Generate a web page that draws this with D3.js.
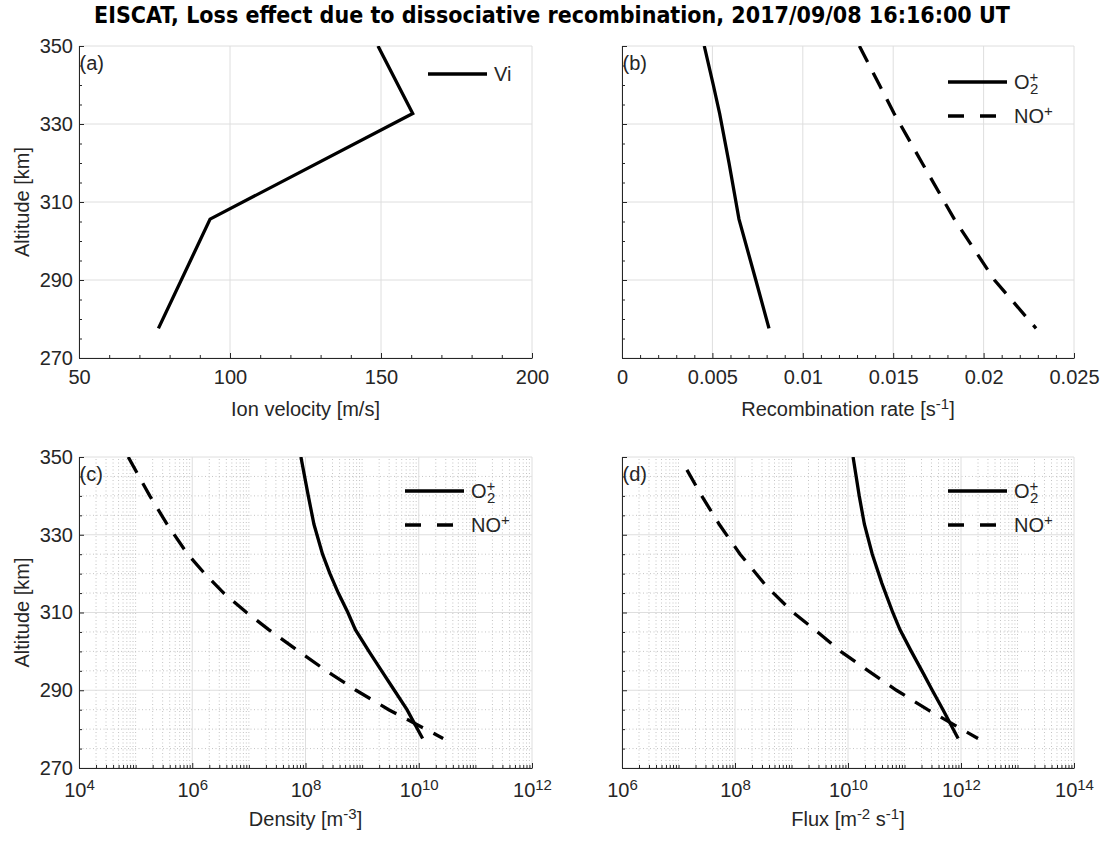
<!DOCTYPE html>
<meta charset="utf-8">
<style>
body { margin: 0; background: #fff; }
svg { font-family: "Liberation Sans", Arial, sans-serif; }
.tick text { font-size: 20px; fill: #262626; }
.axis path, .axis line { stroke: #262626; }
.lbl { font-size: 20px; fill: #262626; }
</style>
<body>
<script src="https://d3js.org/d3.v7.min.js"></script>
<script>

// ---- data ----
var titleText = "EISCAT, Loss effect due to dissociative recombination, 2017/09/08 16:16:00 UT";

// (a) ion velocity
var altVi = [277.6, 305.6, 332.7, 350];
var vi    = [76.3, 93.4, 160.5, 149];

// (b) recombination rate [s^-1]
var altRate = [350, 340, 332.7, 320, 305.6, 290, 277.6];
var rateO2  = [0.00455, 0.00505, 0.00540, 0.00592, 0.00647, 0.00740, 0.00813];
var rateNO  = [0.01313, 0.01424, 0.01505, 0.01660, 0.01838, 0.0206, 0.0229];

// (c) density [m^-3]
var altDens = [350, 340, 332.7, 325, 320, 315, 310, 305.6, 300, 295, 290, 285, 277.6];
var densO2  = [8.3e7, 1.12e8, 1.41e8, 2.0e8, 2.7e8, 3.8e8, 5.6e8, 7.6e8, 1.32e9, 2.21e9, 3.7e9, 6.2e9, 1.17e10];
var densNO  = [7.4e4, 1.78e5, 3.6e5, 8.3e5, 1.66e6, 3.6e6, 9.1e6, 2.24e7, 7.6e7, 2.34e8, 7.8e8, 2.95e9, 2.7e10];

// (d) flux [m^-2 s^-1]
var altFluxO2 = [350, 340, 332.7, 325, 317.5, 310, 305.6, 300, 294.4, 290, 285, 277.6];
var fluxO2    = [1.23e10, 1.58e10, 1.95e10, 2.69e10, 3.98e10, 6.2e10, 8.3e10, 1.32e11, 2.14e11, 3.1e11, 4.8e11, 8.9e11];
var altFluxNO = [346.7, 340, 332.7, 325, 316.7, 310, 305.6, 300, 295, 290, 285, 277.6];
var fluxNO    = [1.41e7, 2.57e7, 5.25e7, 1.23e8, 3.63e8, 1.07e9, 2.57e9, 7.4e9, 2.29e10, 7.2e10, 2.57e11, 2.0e12];

var altTicks = [270, 290, 310, 330, 350];
var velTicks = [50, 100, 150, 200];
var rateTicks = [0, 0.005, 0.01, 0.015, 0.02, 0.025];
var rateTickLabels = ["0", "0.005", "0.01", "0.015", "0.02", "0.025"];
var densTicks = [1e4, 1e6, 1e8, 1e10, 1e12];
var fluxTicks = [1e6, 1e8, 1e10, 1e12, 1e14];

// ---- drawing ----
var width = 1105, height = 842;
var svg = d3.select("body").append("svg")
    .attr("width", width).attr("height", height);
svg.append("rect").attr("width", width).attr("height", height).attr("fill", "#fff");

svg.append("text")
    .attr("x", 552).attr("y", 23)
    .attr("text-anchor", "middle")
    .style("font-family", "'DejaVu Sans Condensed', 'DejaVu Sans', sans-serif")
    .style("font-stretch", "condensed")
    .style("font-weight", "bold")
    .style("font-size", "23px")
    .attr("fill", "#000")
    .text(titleText);

var ink = "#262626";
var gridMajor = "#dedede";
var gridMinor = "#c4c4c4";

function range(a, b, step) {
  var out = [];
  for (var v = a; v <= b + step * 1e-6; v += step) out.push(+v.toFixed(10));
  return out;
}
function logMinor(d) {
  var out = [], lo = Math.round(Math.log10(d[0])), hi = Math.round(Math.log10(d[1]));
  for (var e = lo; e < hi; e++)
    for (var k = 1; k <= 9; k++) {
      var v = k * Math.pow(10, e);
      if (!(k === 1 && e % 2 === 0)) out.push(v);
    }
  return out;
}

// write text with optional super/subscript pieces
function supText(sel, parts) {
  sel.text(null);
  parts.forEach(function(p) {
    var t = sel.append("tspan").text(p.t);
    if (p.sup) t.attr("dy", "-0.45em").style("font-size", "0.75em");
    if (p.sub) t.attr("dy", "0.35em").style("font-size", "0.75em");
    if (p.back) t.attr("dy", p.back);
    if (p.dx) t.attr("dx", p.dx);
  });
}

var clipId = 0;
function panel(o) {
  var x = o.x, y = o.y;
  var x0 = x.range()[0], x1 = x.range()[1], y0 = y.range()[0], y1 = y.range()[1];
  var g = svg.append("g");

  // grids
  if (o.minorGrid) {
    g.selectAll(null).data(o.xMinor).enter().append("line")
      .attr("x1", x).attr("x2", x).attr("y1", y0).attr("y2", y1)
      .attr("stroke", gridMinor).attr("stroke-dasharray", "1,2.5");
    g.selectAll(null).data(o.yMinor).enter().append("line")
      .attr("y1", y).attr("y2", y).attr("x1", x0).attr("x2", x1)
      .attr("stroke", gridMinor).attr("stroke-dasharray", "1,2.5");
  }
  g.selectAll(null).data(o.xMajor).enter().append("line")
    .attr("x1", x).attr("x2", x).attr("y1", y0).attr("y2", y1)
    .attr("stroke", gridMajor);
  g.selectAll(null).data(o.yMajor).enter().append("line")
    .attr("y1", y).attr("y2", y).attr("x1", x0).attr("x2", x1)
    .attr("stroke", gridMajor);

  // curves
  var id = "clip" + (clipId++);
  svg.append("clipPath").attr("id", id).append("rect")
    .attr("x", x0).attr("y", y1).attr("width", x1 - x0).attr("height", y0 - y1);
  o.series.forEach(function(s) {
    var line = d3.line().x(function(d) { return x(d[0]); }).y(function(d) { return y(d[1]); });
    g.append("path")
      .datum(d3.zip(s.v, s.alt))
      .attr("clip-path", "url(#" + id + ")")
      .attr("d", line)
      .attr("fill", "none")
      .attr("stroke", "#000")
      .attr("stroke-width", 3.3)
      .attr("stroke-dasharray", s.dash ? "18,12" : null);
  });

  // axes (ticks point inward)
  var xa = g.append("g").attr("class", "axis").attr("transform", "translate(0," + y0 + ")")
    .call(d3.axisBottom(x).tickValues(o.xMajor).tickSize(-5).tickSizeOuter(0)
      .tickPadding(o.logX ? 15 : 12)
      .tickFormat(function(d, i) { return o.xLabels[i]; }));
  if (o.logX) {
    xa.selectAll(".tick text").each(function(d) {
      var e = Math.round(Math.log10(d));
      supText(d3.select(this), [{t: "10"}, {t: String(e), sup: true}]);
    });
  }
  xa.append("g").call(d3.axisBottom(x).tickValues(o.xMinor).tickSize(-3).tickSizeOuter(0).tickFormat(""))
    .call(function(s) { s.select(".domain").remove(); s.selectAll("text").remove(); })
    .selectAll("line").attr("stroke", ink);

  var ya = g.append("g").attr("class", "axis").attr("transform", "translate(" + x0 + ",0)")
    .call(d3.axisLeft(y).tickValues(o.yMajor).tickSize(-5).tickSizeOuter(0).tickPadding(6)
      .tickFormat(o.yLabels ? d3.format("d") : ""));
  ya.append("g").call(d3.axisLeft(y).tickValues(o.yMinor).tickSize(-3).tickSizeOuter(0).tickFormat(""))
    .call(function(s) { s.select(".domain").remove(); s.selectAll("text").remove(); })
    .selectAll("line").attr("stroke", ink);

  // axis titles
  var xt = svg.append("text").attr("class", "lbl")
    .attr("x", (x0 + x1) / 2).attr("y", y0 + 58).attr("text-anchor", "middle");
  supText(xt, o.xTitle);
  if (o.yLabels) {
    svg.append("text").attr("class", "lbl")
      .attr("transform", "translate(" + (x0 - 50) + "," + ((y0 + y1) / 2) + ") rotate(-90)")
      .attr("text-anchor", "middle")
      .text("Altitude [km]");
  }

  // panel letter
  svg.append("text").attr("class", "lbl")
    .attr("x", x0 + 0.5).attr("y", y1 + 24)
    .text(o.letter);

  // legend
  o.series.forEach(function(s, i) {
    var ly = y1 + o.legTop + i * 34;
    svg.append("line")
      .attr("x1", x1 - o.legRight).attr("x2", x1 - o.legRight + 59)
      .attr("y1", ly).attr("y2", ly)
      .attr("stroke", "#000").attr("stroke-width", 3.3)
      .attr("stroke-dasharray", s.dash ? "16,16" : null);
    var t = svg.append("text").attr("class", "lbl")
      .attr("x", x1 - o.legRight + 66).attr("y", ly + 7);
    supText(t, s.label);
  });
}

var o2Label = [{t: "O"}, {t: "+", sup: true}, {t: "2", sub: true, dx: "-0.55em", back: "0.8em"}];
var noLabel = [{t: "NO"}, {t: "+", sup: true}];

var yTop = d3.scaleLinear().domain([270, 350]).range([358, 46]);
var yBot = d3.scaleLinear().domain([270, 350]).range([768, 457]);
var yMinor = range(270, 350, 5).filter(function(v) { return altTicks.indexOf(v) < 0; });

panel({
  letter: "(a)",
  x: d3.scaleLinear().domain([50, 200]).range([79, 532]), y: yTop,
  xMajor: velTicks, xLabels: velTicks.map(String),
  xMinor: range(50, 200, 10).filter(function(v) { return velTicks.indexOf(v) < 0; }),
  yMajor: altTicks, yMinor: yMinor, yLabels: true,
  xTitle: [{t: "Ion velocity [m/s]"}],
  series: [{alt: altVi, v: vi, label: [{t: "Vi"}]}],
  legTop: 28, legRight: 104
});

panel({
  letter: "(b)",
  x: d3.scaleLinear().domain([0, 0.025]).range([622, 1074]), y: yTop,
  xMajor: rateTicks, xLabels: rateTickLabels,
  xMinor: range(0, 0.025, 0.001).filter(function(v) { return Math.round(v * 1000) % 5 !== 0; }),
  yMajor: altTicks, yMinor: yMinor, yLabels: false,
  xTitle: [{t: "Recombination rate [s"}, {t: "-1", sup: true}, {t: "]", back: "0.34em"}],
  series: [{alt: altRate, v: rateO2, label: o2Label},
           {alt: altRate, v: rateNO, label: noLabel, dash: true}],
  legTop: 36, legRight: 126
});

var xDens = d3.scaleLog().domain([1e4, 1e12]).range([79, 532]);
panel({
  letter: "(c)", logX: true,
  x: xDens, y: yBot,
  xMajor: densTicks, xLabels: densTicks.map(String),
  xMinor: logMinor(xDens.domain()),
  yMajor: altTicks, yMinor: yMinor, yLabels: true, minorGrid: true,
  xTitle: [{t: "Density [m"}, {t: "-3", sup: true}, {t: "]", back: "0.34em"}],
  series: [{alt: altDens, v: densO2, label: o2Label},
           {alt: altDens, v: densNO, label: noLabel, dash: true}],
  legTop: 34, legRight: 127
});

var xFlux = d3.scaleLog().domain([1e6, 1e14]).range([622, 1074]);
panel({
  letter: "(d)", logX: true,
  x: xFlux, y: yBot,
  xMajor: fluxTicks, xLabels: fluxTicks.map(String),
  xMinor: logMinor(xFlux.domain()),
  yMajor: altTicks, yMinor: yMinor, yLabels: false, minorGrid: true,
  xTitle: [{t: "Flux [m"}, {t: "-2", sup: true}, {t: " s", back: "0.34em"}, {t: "-1", sup: true}, {t: "]", back: "0.34em"}],
  series: [{alt: altFluxO2, v: fluxO2, label: o2Label},
           {alt: altFluxNO, v: fluxNO, label: noLabel, dash: true}],
  legTop: 34, legRight: 126
});

</script>
</body>
